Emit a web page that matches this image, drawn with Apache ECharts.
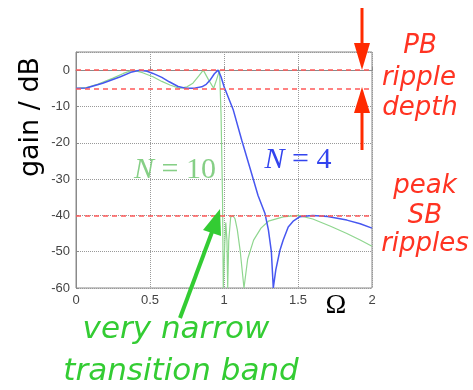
<!DOCTYPE html>
<html>
<head>
<meta charset="utf-8">
<script src="https://cdn.jsdelivr.net/npm/echarts@6/dist/echarts.min.js"></script>
<style>
  html, body { margin: 0; padding: 0; background: #fff; }
  #chart { width: 473px; height: 390px; }
</style>
</head>
<body>
<div id="chart"></div>
<script>
// axis ticks
const xTicks = [0, 0.5, 1, 1.5, 2];
const yTicks = [-60, -50, -40, -30, -20, -10, 0];
// dashed reference levels: passband ripple top/bottom, stopband peak
const refLevels = [0, -5, -40];

// N = 4 response  [omega, dB]
const n4Omega = [0, 0.07, 0.18, 0.3, 0.37, 0.43, 0.48, 0.52, 0.58, 0.63, 0.69, 0.74, 0.8, 0.85, 0.88, 0.905, 0.935, 0.96, 0.98, 1.0,
  1.063, 1.12, 1.176, 1.23, 1.277, 1.3, 1.32, 1.333, 1.35, 1.378, 1.4, 1.434, 1.47, 1.51, 1.6, 1.7, 1.83, 1.92, 2.0];
const n4Gain = [-5, -4.9, -3.6, -1.8, -0.6, 0, -0.3, -0.9, -2, -3.2, -4.5, -5, -4.95, -4.6, -3.9, -2.8, -1, 0, -1.8, -4.5,
  -11, -19.3, -27, -34.5, -39.5, -44, -50, -60, -55, -49.6, -46.8, -43.2, -41.5, -40.4, -40, -40.3, -41.3, -42.3, -43.5];

// N = 10 response
const n10Omega = [0, 0.07, 0.15, 0.25, 0.32, 0.385, 0.45, 0.52, 0.58, 0.635, 0.7, 0.75, 0.79, 0.83, 0.86, 0.895, 0.93, 0.95, 0.97,
  0.98, 0.99, 0.995, 1.005, 1.012, 1.02, 1.025, 1.032, 1.045, 1.06, 1.075, 1.09, 1.11, 1.135, 1.16, 1.2, 1.25, 1.3, 1.4, 1.5,
  1.6, 1.72, 1.83, 1.92, 2.0];
const n10Gain = [-5, -4.8, -3.8, -2.2, -0.9, 0, -0.7, -1.8, -3.1, -4.1, -5, -4.6, -3.6, -1.6, 0, -2.6, -5, -2.6, 0,
  -12, -35, -60, -48, -42, -47, -60, -47, -40.5, -40, -41, -44, -50, -60, -52, -46.8, -43.5, -41.6, -40.4, -40,
  -41, -43, -45, -46.8, -48.5];

const pairs = (xs, ys) => xs.map((x, i) => [x, ys[i]]);

const RED = '#ff3322';
const GREEN = '#33cc33';
const sans = 'DejaVu Sans';
const serif = 'Liberation Serif';

function label(x, y, text, size, color, italic) {
  return {
    type: 'text', x: x, y: y, z: 10,
    style: {
      text: text, fill: color,
      font: (italic ? 'italic ' : '') + size + 'px "' + sans + '"',
      align: 'center', verticalAlign: 'middle',
      textAlign: 'center', textVerticalAlign: 'middle'
    }
  };
}

var myChart = echarts.init(document.getElementById('chart'));
var option = {
  animation: false,
  grid: {
    left: 76, right: 101, top: 52, bottom: 102,
    show: true, borderColor: '#8a8a8a', borderWidth: 1
  },
  xAxis: {
    type: 'value',
    min: xTicks[0], max: xTicks[xTicks.length - 1], interval: 0.5,
    axisLine: { lineStyle: { color: '#8a8a8a' } },
    axisTick: { inside: true, length: 3, lineStyle: { color: '#8a8a8a' } },
    axisLabel: { color: '#444', fontSize: 13, fontFamily: 'Liberation Sans', margin: 6 },
    splitLine: { show: true, lineStyle: { type: 'dotted', color: '#999', width: 1 } }
  },
  yAxis: {
    type: 'value',
    min: yTicks[0], max: 5, interval: 10,
    axisLine: { show: true, lineStyle: { color: '#8a8a8a' } },
    axisTick: { show: true, inside: true, length: 3, lineStyle: { color: '#8a8a8a' } },
    axisLabel: {
      color: '#444', fontSize: 13, fontFamily: 'Liberation Sans', margin: 6,
      formatter: function (v) { return yTicks.indexOf(v) >= 0 ? String(v) : ''; }
    },
    splitLine: { show: true, lineStyle: { type: 'dotted', color: '#999', width: 1 } }
  },
  series: [
    {
      name: 'N = 10',
      type: 'line',
      data: pairs(n10Omega, n10Gain),
      showSymbol: false,
      clip: true,
      lineStyle: { color: '#8fd68f', width: 1.2 },
      z: 3,
      markLine: {
        silent: true,
        symbol: 'none',
        label: { show: false },
        lineStyle: { color: '#ff5a5a', type: [5, 4], width: 1.5 },
        data: refLevels.map(v => ({ yAxis: v }))
      }
    },
    {
      name: 'N = 4',
      type: 'line',
      data: pairs(n4Omega, n4Gain),
      showSymbol: false,
      clip: true,
      lineStyle: { color: '#4757f0', width: 1.5 },
      z: 4
    }
  ],
  graphic: [
    {
      type: 'text', x: 31, y: 117, rotation: Math.PI / 2,
      style: {
        text: 'gain / dB', fill: '#000', font: '27px "' + sans + '"',
        align: 'center', verticalAlign: 'middle', textAlign: 'center', textVerticalAlign: 'middle'
      }
    },
    {
      type: 'text', x: 336, y: 306,
      style: {
        text: 'Ω', fill: '#000', font: '28px "' + serif + '"',
        align: 'center', verticalAlign: 'middle', textAlign: 'center', textVerticalAlign: 'middle'
      }
    },
    {
      type: 'text', x: 175, y: 170, z: 10,
      style: {
        text: '{n|N} = 10', fill: '#86cf86', font: '30px "' + serif + '"',
        align: 'center', verticalAlign: 'middle', textAlign: 'center', textVerticalAlign: 'middle',
        rich: { n: { fontStyle: 'italic', fontFamily: serif, fontSize: 30, fill: '#86cf86', color: '#86cf86' } }
      }
    },
    {
      type: 'text', x: 298, y: 160, z: 10,
      style: {
        text: '{n|N} = 4', fill: '#3344ee', font: '30px "' + serif + '"',
        align: 'center', verticalAlign: 'middle', textAlign: 'center', textVerticalAlign: 'middle',
        rich: { n: { fontStyle: 'italic', fontFamily: serif, fontSize: 30, fill: '#3344ee', color: '#3344ee' } }
      }
    },
    label(420, 46, 'PB', 26, RED, true),
    label(419, 78, 'ripple', 26, RED, true),
    label(420, 108, 'depth', 26, RED, true),
    label(425, 186, 'peak', 26, RED, true),
    label(425, 216, 'SB', 26, RED, true),
    label(425, 244, 'ripples', 26, RED, true),
    label(176, 330, 'very narrow', 31, GREEN, true),
    label(181, 372, 'transition band', 31, GREEN, true),
    // red arrows
    { type: 'line', z: 10, shape: { x1: 362, y1: 8, x2: 362, y2: 48 }, style: { stroke: '#ff2a00', lineWidth: 3 } },
    { type: 'polygon', z: 10, shape: { points: [[362, 70], [354, 43], [370, 43]] }, style: { fill: '#ff2a00' } },
    { type: 'line', z: 10, shape: { x1: 362, y1: 108, x2: 362, y2: 150 }, style: { stroke: '#ff2a00', lineWidth: 3 } },
    { type: 'polygon', z: 10, shape: { points: [[362, 87], [354, 113], [370, 113]] }, style: { fill: '#ff2a00' } },
    // green arrow
    { type: 'line', z: 10, shape: { x1: 180, y1: 318, x2: 212, y2: 232 }, style: { stroke: '#33cc33', lineWidth: 4 } },
    { type: 'polygon', z: 10, shape: { points: [[220, 209], [221, 236], [203, 230]] }, style: { fill: '#33cc33' } }
  ]
};
option && myChart.setOption(option);
</script>
</body>
</html>
